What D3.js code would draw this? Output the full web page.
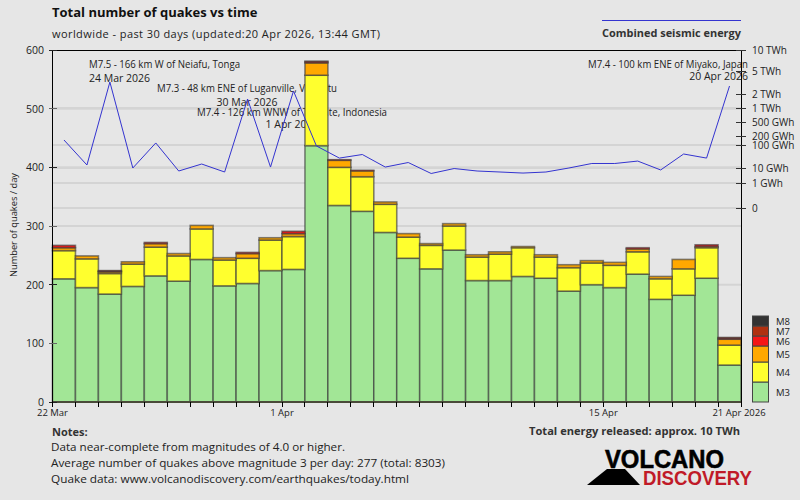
<!DOCTYPE html>
<html><head><meta charset="utf-8">
<style>
html,body{margin:0;padding:0;background:#e6e6e6;overflow:hidden}
svg{display:block}
text{font-family:"Open Sans",sans-serif;fill:#222}
</style>
<script src="https://cdn.jsdelivr.net/npm/d3@7/dist/d3.min.js"></script>
</head><body>
<svg id="c" width="800" height="500"></svg>
<script>
const days=["22 Mar","23 Mar","24 Mar","25 Mar","26 Mar","27 Mar","28 Mar","29 Mar","30 Mar","31 Mar",
"1 Apr","2 Apr","3 Apr","4 Apr","5 Apr","6 Apr","7 Apr","8 Apr","9 Apr","10 Apr","11 Apr","12 Apr","13 Apr","14 Apr","15 Apr","16 Apr","17 Apr","18 Apr","19 Apr","20 Apr"];
const m3=[210,195,184,197,215,206,243,198,202,224,226,437,335,325,289,245,227,259,207,207,214,211,189,200,195,218,175,182,211,63];
const m4=[48,49,35,38,49,43,52,44,43,52,56,120,65,59,48,36,40,41,40,45,49,36,40,37,38,38,35,45,52,34];
const m5=[5,5,3,4,6,4,6,4,8,4,5,21,12,10,4,6,3,4,4,4,2,4,5,4,5,5,4,16,2,10];
const m6=[4,0,1,0,2,0,0,0,2,0,4,2,1,1,0,0,0,0,0,0,0,0,0,0,0,2,0,0,3,2];
const m7=[0,0,1,0,0,0,0,0,0,0,0,1,0,0,0,0,0,0,0,0,0,0,0,0,0,0,0,0,0,1];
const m8=days.map(()=>0);
const energyGWh=[147,13.5,3220,10,117,6.3,14.9,5.4,1560,11,2255,91,27,38.6,11,17.3,4.3,9.2,6.3,5.4,4.6,5.4,10,15.7,15.7,20,7.4,40.6,27,2750];
const countTicks=[0,100,200,300,400,500,600];
const energyStops=[0.1,1,10,100,200,500,1000,2000,5000,10000];
const energyLabels=["0","1 GWh","10 GWh","100 GWh","200 GWh","500 GWh","1 TWh","2 TWh","5 TWh","10 TWh"];
const energyGrid=[0.1,1,10,100,1000];
const magNames=["M3","M4","M5","M6","M7","M8"];
const magColors=["#a2e696","#ffff2e","#ffa800","#f51616","#b03010","#333333"];
const legendSpans=[20,20,16,10,10,10];
const dateLabels=["22 Mar","1 Apr","15 Apr"];
const quakeNotes=[
 {lines:["M7.5 - 166 km W of Neiafu, Tonga","24 Mar 2026"],x:89,y:[68,82],a:"start",w:151},
 {lines:["M7.3 - 48 km ENE of Luganville, Vanuatu","30 Mar 2026"],x:247,y:[92,106],a:"middle",w:180},
 {lines:["M7.4 - 126 km WNW of Ternate, Indonesia","1 Apr 2026"],x:292,y:[116,128],a:"middle",w:190},
 {lines:["M7.4 - 100 km ENE of Miyako, Japan","20 Apr 2026"],x:748,y:[68,80],a:"end",w:160}
];
const notes=["Data near-complete from magnitudes of 4.0 or higher.",
"Average number of quakes above magnitude 3 per day: 277 (total: 8303)",
"Quake data: www.volcanodiscovery.com/earthquakes/today.html"];

const L=52.5,R=741,T=50,B=402;
const svg=d3.select("#c");
const x=d3.scaleBand().domain(days).range([L,R]).paddingInner(0).paddingOuter(0);
const y=d3.scaleLinear().domain([0,600]).range([B,T]);
const yE=d3.scaleLog().domain(energyStops).range([208,183,168,145,136,122,108,94,71,50]);

// gridlines
const grid=svg.append("g").attr("stroke","#d4d4d4").attr("stroke-width",2);
countTicks.slice(1,-1).forEach(v=>grid.append("line").attr("x1",L).attr("x2",R).attr("y1",y(v)).attr("y2",y(v)));
energyGrid.forEach(v=>grid.append("line").attr("x1",L).attr("x2",R).attr("y1",yE(v)).attr("y2",yE(v)));

// annotations sit behind the bars
const ann=svg.append("g").attr("font-size",10.5);
quakeNotes.forEach(n=>{
  ann.append("text").attr("x",n.x).attr("y",n.y[0]).attr("text-anchor",n.a).attr("textLength",n.w).attr("lengthAdjust","spacingAndGlyphs").text(n.lines[0]);
  ann.append("text").attr("x",n.x).attr("y",n.y[1]).attr("text-anchor",n.a).text(n.lines[1]);
});

// stacked bars
const rows=days.map((d,i)=>({day:d,M3:m3[i],M4:m4[i],M5:m5[i],M6:m6[i],M7:m7[i],M8:m8[i]}));
const series=d3.stack().keys(magNames)(rows);
svg.append("g").selectAll("g").data(series).join("g")
 .attr("fill",(d,i)=>magColors[i])
 .selectAll("rect").data(d=>d.filter(p=>p[1]>p[0])).join("rect")
 .attr("x",d=>x(d.data.day)).attr("width",x.bandwidth())
 .attr("y",d=>y(d[1])).attr("height",d=>y(d[0])-y(d[1]))
 .attr("stroke","#3c3c3c").attr("stroke-opacity",0.62).attr("stroke-width",1.6);

// base band
svg.append("line").attr("x1",L).attr("x2",R).attr("y1",B).attr("y2",B).attr("stroke","#4a4a3a").attr("stroke-width",2);

// energy line
const lineGen=d3.line().x((d,i)=>x(days[i])+x.bandwidth()/2).y(d=>yE(d));
svg.append("path").datum(energyGWh).attr("d",lineGen).attr("fill","none").attr("stroke","#3434d0").attr("stroke-width",1);

// frame
const fr=svg.append("g").attr("stroke","#000").attr("stroke-width",1).attr("shape-rendering","crispEdges");
fr.append("line").attr("x1",L).attr("x2",R).attr("y1",T).attr("y2",T);
fr.append("line").attr("x1",L).attr("x2",L).attr("y1",T).attr("y2",B+5);
fr.append("line").attr("x1",R).attr("x2",R).attr("y1",T).attr("y2",B+5);

// left axis
countTicks.forEach(v=>{
  fr.append("line").attr("x1",L-4).attr("x2",L+4).attr("y1",y(v)).attr("y2",y(v)).attr("stroke",v%200==100?"#666":"#222");
  svg.append("text").attr("x",44).attr("y",y(v)+4).attr("text-anchor","end").attr("font-size",10.5).text(v);
});
svg.append("text").attr("transform","translate(17,225) rotate(-90)").attr("text-anchor","middle").attr("font-size",9.5).attr("textLength",104).attr("lengthAdjust","spacingAndGlyphs").text("Number of quakes / day");

// right axis
energyStops.forEach((v,i)=>{
  fr.append("line").attr("x1",R-5).attr("x2",R+5).attr("y1",yE(v)).attr("y2",yE(v)).attr("stroke","#333");
  svg.append("text").attr("x",752).attr("y",yE(v)+3.5).attr("font-size",10).text(energyLabels[i]);
});

// bottom axis
[...days.map(d=>x(d)),R].forEach(px=>fr.append("line").attr("x1",px).attr("x2",px).attr("y1",B).attr("y2",B+5));
dateLabels.forEach(d=>svg.append("text").attr("x",x(d)).attr("y",416).attr("text-anchor","middle").attr("font-size",9.5).text(d));
svg.append("text").attr("x",R-2).attr("y",416).attr("text-anchor","middle").attr("font-size",9.5).text("21 Apr 2026");

// magnitude legend
let ly=B;
const lg=svg.append("g");
magNames.forEach((m,i)=>{
  lg.append("rect").attr("x",752.5).attr("y",ly-legendSpans[i]).attr("width",16).attr("height",legendSpans[i]).attr("fill",magColors[i]).attr("stroke","#444").attr("stroke-width",1);
  lg.append("text").attr("x",776).attr("y",ly-legendSpans[i]/2+3.5).attr("font-size",9.5).text(m);
  ly-=legendSpans[i];
});

// headings
svg.append("text").attr("x",52).attr("y",17).attr("font-size",13).attr("font-weight",700).attr("fill","#111").text("Total number of quakes vs time");
svg.append("text").attr("x",52).attr("y",38).attr("font-size",11).attr("textLength",328).attr("lengthAdjust","spacing").text("worldwide - past 30 days (updated:20 Apr 2026, 13:44 GMT)");
svg.append("line").attr("x1",602).attr("x2",741).attr("y1",20.5).attr("y2",20.5).attr("stroke","#3434d0").attr("stroke-width",1);
svg.append("text").attr("x",602).attr("y",37).attr("font-size",11).attr("font-weight",700).attr("fill","#333").attr("textLength",139).attr("lengthAdjust","spacingAndGlyphs").text("Combined seismic energy");

// notes
svg.append("text").attr("x",52).attr("y",436).attr("font-size",11).attr("font-weight",700).attr("fill","#333").text("Notes:");
[[294],[394],[358]].forEach((w,i)=>svg.append("text").attr("x",51).attr("y",451+i*16).attr("font-size",11).attr("textLength",w[0]).attr("lengthAdjust","spacingAndGlyphs").text(notes[i]));
svg.append("text").attr("x",529).attr("y",435).attr("font-size",11).attr("font-weight",700).attr("fill","#333").attr("textLength",211).attr("lengthAdjust","spacingAndGlyphs").text("Total energy released: approx. 10 TWh");

// logo
svg.append("path").attr("d","M587,485 L607,469 L625,469 L640,485 Z").attr("fill","#000");
svg.append("text").attr("x",605).attr("y",468).attr("font-size",25).attr("font-weight",700).attr("fill","#000").attr("stroke","#000").attr("stroke-width",0.6).attr("textLength",119).attr("lengthAdjust","spacingAndGlyphs").style("font-family","'Liberation Sans'").text("VOLCANO");
svg.append("text").attr("x",643).attr("y",485).attr("font-size",20).attr("font-weight",700).attr("fill","#c01a28").attr("textLength",109).attr("lengthAdjust","spacingAndGlyphs").style("font-family","'Liberation Sans'").text("DISCOVERY");
svg.selectAll("text").each(function(){const f=this.getAttribute("fill");if(f)this.style.fill=f;});
</script>
</body></html>
